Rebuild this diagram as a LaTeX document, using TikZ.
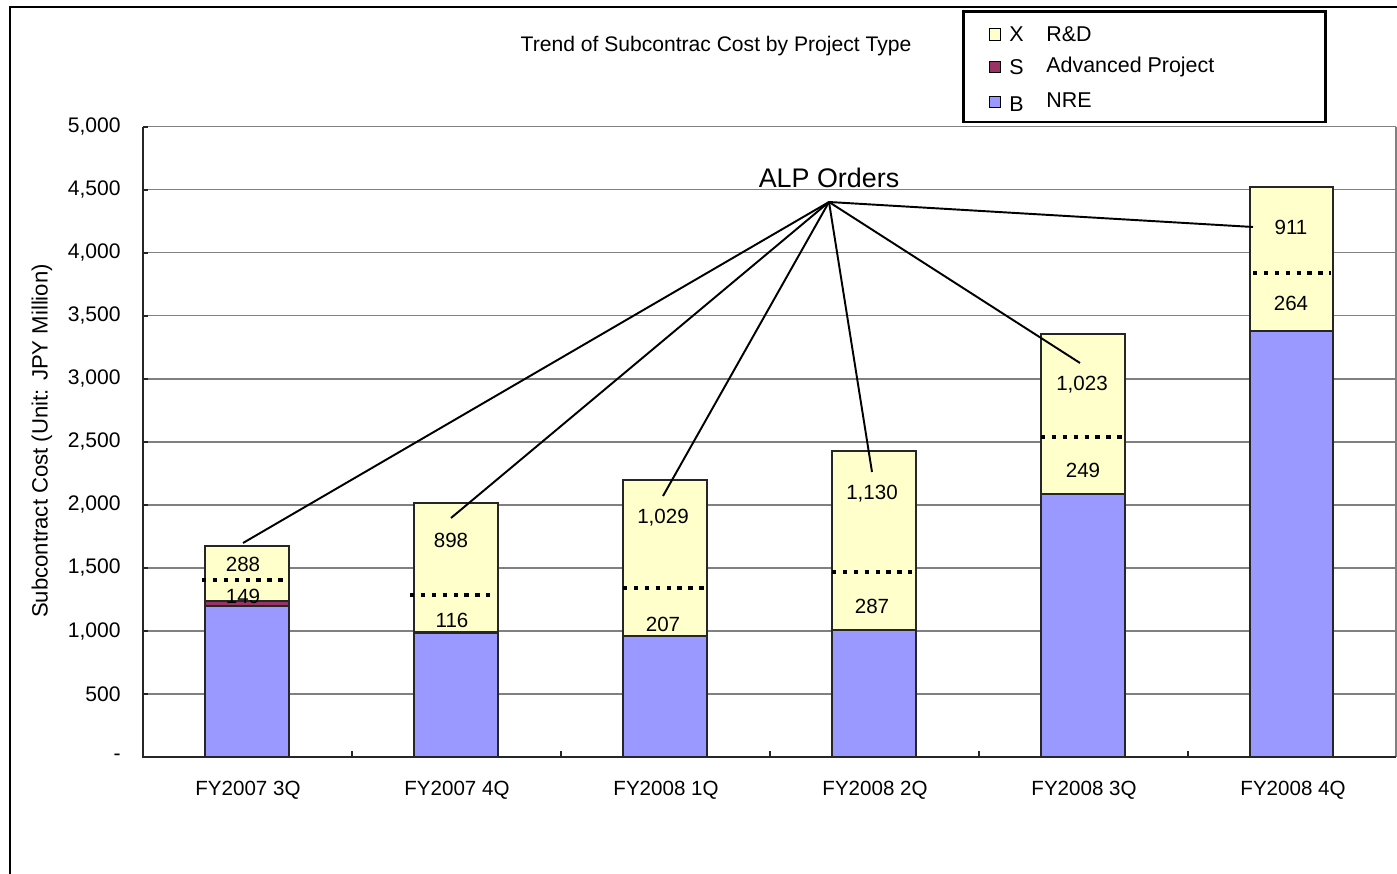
\documentclass[tikz,border=0pt]{standalone}
\usepackage{fontspec}
\setmainfont{Liberation Sans}
\definecolor{rdY}{HTML}{FFFFCC}
\definecolor{advM}{HTML}{993366}
\definecolor{nreB}{HTML}{9999FF}
\definecolor{gridG}{HTML}{808080}
\begin{document}
\begin{tikzpicture}[x=0.02cm,y=-0.02cm,
  gridline/.style={draw=gridG,line width=0.6pt},
  axisline/.style={draw=black!85,line width=0.9pt},
  barB/.style={fill=nreB,draw=black!85,line width=0.7pt},
  barS/.style={fill=advM,draw=black!85,line width=0.7pt},
  barX/.style={fill=rdY,draw=black!85,line width=0.7pt},
  sepdots/.style={draw=black,line width=2.6pt,dash pattern=on 2.5pt off 3.7pt},
  vallabel/.style={font=\fontsize{11.7}{13}\selectfont,inner sep=0pt},
  ytick/.style={font=\fontsize{12}{14}\selectfont,anchor=east,inner sep=0pt},
  xcat/.style={font=\fontsize{11.7}{13}\selectfont,inner sep=0pt},
  leader/.style={draw=black,line width=1.1pt},
  legsq/.style={draw=black,line width=0.6pt,minimum size=6.5pt,inner sep=0pt},
  legtxt/.style={font=\fontsize{12.2}{14}\selectfont,anchor=west,inner sep=0pt}]
\useasboundingbox (0,0) rectangle (1397,874);
% outer frame
\draw[draw=black,line width=0.9pt] (10,874) -- (10,7) -- (1397,7);
% grid lines
\foreach \v in {500,1000,...,5000}{
  \draw[gridline] (143,{757-\v*0.126}) -- (1396,{757-\v*0.126});
  \draw[axisline] (143,{757-\v*0.126}) -- (148,{757-\v*0.126});
}
\draw[gridline] (1396,127) -- (1396,757);
% y tick labels
\foreach \v/\t in {0/-,500/500,1000/{1,000},1500/{1,500},2000/{2,000},2500/{2,500},3000/{3,000},3500/{3,500},4000/{4,000},4500/{4,500},5000/{5,000}}{
  \node[ytick] at (121,{757-\v*0.126}) {\t};
}
\node[rotate=90,font=\fontsize{12.6}{14}\selectfont] (ytitle) at (42,441) {Subcontract Cost (Unit: JPY Million)};
% bars
% bar 1
\draw[barB] (205,757) rectangle (289,606);
\draw[barS] (205,606) rectangle (289,601);
\draw[barX] (205,601) rectangle (289,546);
% bar 2
\draw[barB] (414,757) rectangle (498,633);
\draw[barS] (414,633) rectangle (498,631.5);
\draw[barX] (414,631.5) rectangle (498,503);
% bar 3
\draw[barB] (623,757) rectangle (707,636);
\draw[barX] (623,636) rectangle (707,480);
% bar 4
\draw[barB] (832,757) rectangle (916,630);
\draw[barX] (832,630) rectangle (916,451);
% bar 5
\draw[barB] (1041,757) rectangle (1125,494);
\draw[barX] (1041,494) rectangle (1125,334);
% bar 6
\draw[barB] (1250,757) rectangle (1333,331);
\draw[barX] (1250,331) rectangle (1333,187);
% axes
\draw[axisline] (143,127) -- (143,757) -- (1396,757);
\foreach \x in {352,561,770,979,1188}{
  \draw[axisline] (\x,757) -- (\x,751);
}
% dotted separators
\draw[sepdots] (202,580) -- (284,580);
\draw[sepdots] (410,595) -- (490,595);
\draw[sepdots] (623,588) -- (705,588);
\draw[sepdots] (832,572) -- (912,572);
\draw[sepdots] (1041,437) -- (1123,437);
\draw[sepdots] (1253,273) -- (1331,273);
% value labels
\node[vallabel] (a1) at (243,564) {288};
\node[vallabel] (b1) at (243,596) {149};
\node[vallabel] (a2) at (451,540) {898};
\node[vallabel] (b2) at (452,620) {116};
\node[vallabel] (a3) at (663,518) {1,029};
\node[vallabel] (b3) at (663,624) {207};
\node[vallabel] (a4) at (872,494) {1,130};
\node[vallabel] (b4) at (872,606) {287};
\node[vallabel] (a5) at (1082,385) {1,023};
\node[vallabel] (b5) at (1083,470) {249};
\node[vallabel] (a6) at (1291,227) {911};
\node[vallabel] (b6) at (1291,303) {264};
% category labels
\node[xcat] (c1) at (248,790) {FY2007 3Q};
\node[xcat] (c2) at (457,790) {FY2007 4Q};
\node[xcat] (c3) at (666,790) {FY2008 1Q};
\node[xcat] (c4) at (875,790) {FY2008 2Q};
\node[xcat] (c5) at (1084,790) {FY2008 3Q};
\node[xcat] (c6) at (1293,790) {FY2008 4Q};
% ALP orders
\node[font=\fontsize{15.3}{17}\selectfont,inner sep=0pt] (alp) at (829,178) {ALP Orders};
\coordinate (apex) at (829,202);
\coordinate (e1) at (243,543);
\coordinate (e2) at (451,518);
\coordinate (e3) at (663,496);
\coordinate (e4) at (872,472);
\coordinate (e5) at (1080,363);
\coordinate (e6) at (1253,227);
\foreach \e in {e1,e2,e3,e4,e5,e6}{
  \draw[leader] (apex) -- (\e);
}
% title
\node[font=\fontsize{12}{14}\selectfont,inner sep=0pt] (title) at (716,46) {Trend of Subcontrac Cost by Project Type};
% legend
\node[draw=black,line width=1.7pt,minimum width=362*0.02cm,minimum height=110*0.02cm,inner sep=0pt] (legend) at (1144.5,67) {};
\node[legsq,fill=rdY] (sqX) at (995,34.5) {};
\node[legsq,fill=advM] (sqS) at (995,67) {};
\node[legsq,fill=nreB] (sqB) at (995,102) {};
\node[legtxt] (lX) at (1009,34.5) {X};
\node[legtxt] (lS) at (1009,67.5) {S};
\node[legtxt] (lB) at (1009,104) {B};
\node[legtxt] (tX) at (1046,34) {R\&D};
\node[legtxt] (tS) at (1046,67) {Advanced Project};
\node[legtxt] (tB) at (1046,100) {NRE};
\end{tikzpicture}
\end{document}
